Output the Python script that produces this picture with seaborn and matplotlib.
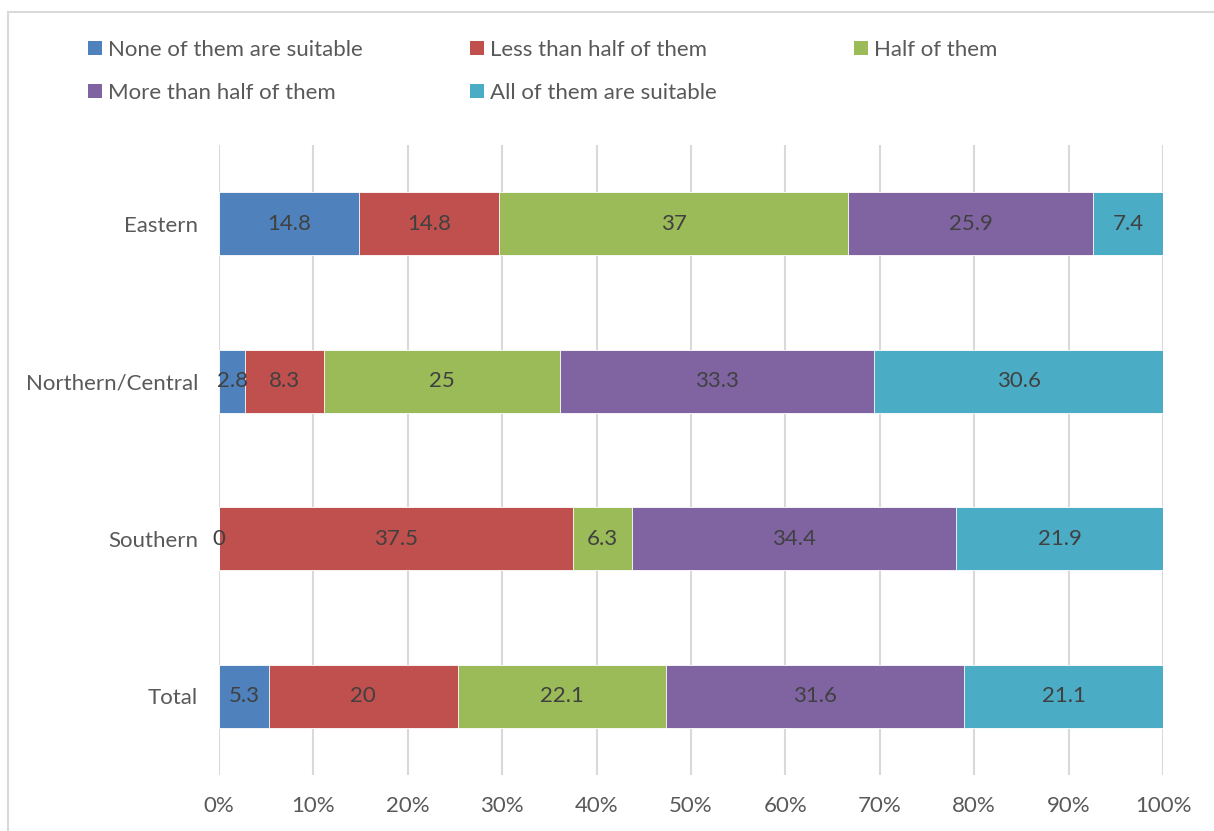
import numpy as np
import pandas as pd
import seaborn as sns
import matplotlib
matplotlib.use("Agg")
import matplotlib.pyplot as plt
from matplotlib.patches import Patch, Rectangle
from matplotlib.ticker import FuncFormatter

# Regions and response shares (%)
regions = ["Eastern", "Northern/Central", "Southern", "Total"]
series = ["None of them are suitable", "Less than half of them", "Half of them",
          "More than half of them", "All of them are suitable"]
none_suitable = [14.8, 2.8, 0, 5.3]
less_than_half = [14.8, 8.3, 37.5, 20]
half = [37, 25, 6.3, 22.1]
more_than_half = [25.9, 33.3, 34.4, 31.6]
all_suitable = [7.4, 30.6, 21.9, 21.1]
colors = ["#4F81BD", "#C0504D", "#9BBB59", "#8064A2", "#4BACC6"]

sns.set_theme(style="white")
plt.rcParams["font.family"] = ["Lato", "DejaVu Sans"]

FS = 16

values = np.array([none_suitable, less_than_half, half, more_than_half, all_suitable], dtype=float)
shares = values / values.sum(axis=0) * 100  # 100% stacked
cum = np.cumsum(shares, axis=0)

fig = plt.figure(figsize=(12.14, 8.31), dpi=100)
ax = fig.add_axes([219 / 1214, 1 - 775 / 831, (1163 - 219) / 1214, (775 - 145) / 831])

# draw stacked layers back to front
for i in range(len(series) - 1, -1, -1):
    df = pd.DataFrame({"region": regions, "cum": cum[i]})
    sns.barplot(data=df, x="cum", y="region", orient="h", color=colors[i],
                saturation=1, width=0.4, edgecolor="white", linewidth=0.6, ax=ax)

# segment value labels
for i in range(len(series)):
    for j in range(len(regions)):
        start = cum[i, j] - shares[i, j]
        center = start + shares[i, j] / 2
        ax.text(center, j, f"{values[i, j]:g}", ha="center", va="center",
                fontsize=FS, color="#404040")

ax.set_xlim(0, 100)
ax.set_ylim(3.5, -0.5)
ax.set_xticks(np.arange(0, 101, 10))
ax.xaxis.set_major_formatter(FuncFormatter(lambda v, p: f"{v:.0f}%"))
ax.grid(axis="x", color="#D9D9D9", linewidth=1.5)
ax.set_axisbelow(True)
for s in ax.spines.values():
    s.set_visible(False)
ax.set_xlabel("")
ax.set_ylabel("")
ax.tick_params(axis="both", length=0, labelsize=FS, colors="#595959")
ax.tick_params(axis="x", pad=15)
ax.tick_params(axis="y", pad=15)

# legend: three columns placed across the top
handles = [Patch(facecolor=c, edgecolor="none") for c in colors]
cols = [[0, 3], [1, 4], [2]]
xs = [88, 470, 854]
for col, x0 in zip(cols, xs):
    fig.legend([handles[k] for k in col], [series[k] for k in col],
               loc="upper left", bbox_to_anchor=(x0 / 1214, 1 - 40 / 831),
               frameon=False, fontsize=FS, labelcolor="#595959",
               handlelength=0.62, handleheight=0.62, handletextpad=0.3,
               labelspacing=1.03, borderaxespad=0, borderpad=0)

# chart frame
fig.patches.append(Rectangle((8 / 1214, -0.05), 1.1, 1 - 12 / 831 + 0.05,
                             transform=fig.transFigure, fill=False,
                             edgecolor="#D9D9D9", linewidth=1.5))

fig.savefig("out.png", dpi=100)
